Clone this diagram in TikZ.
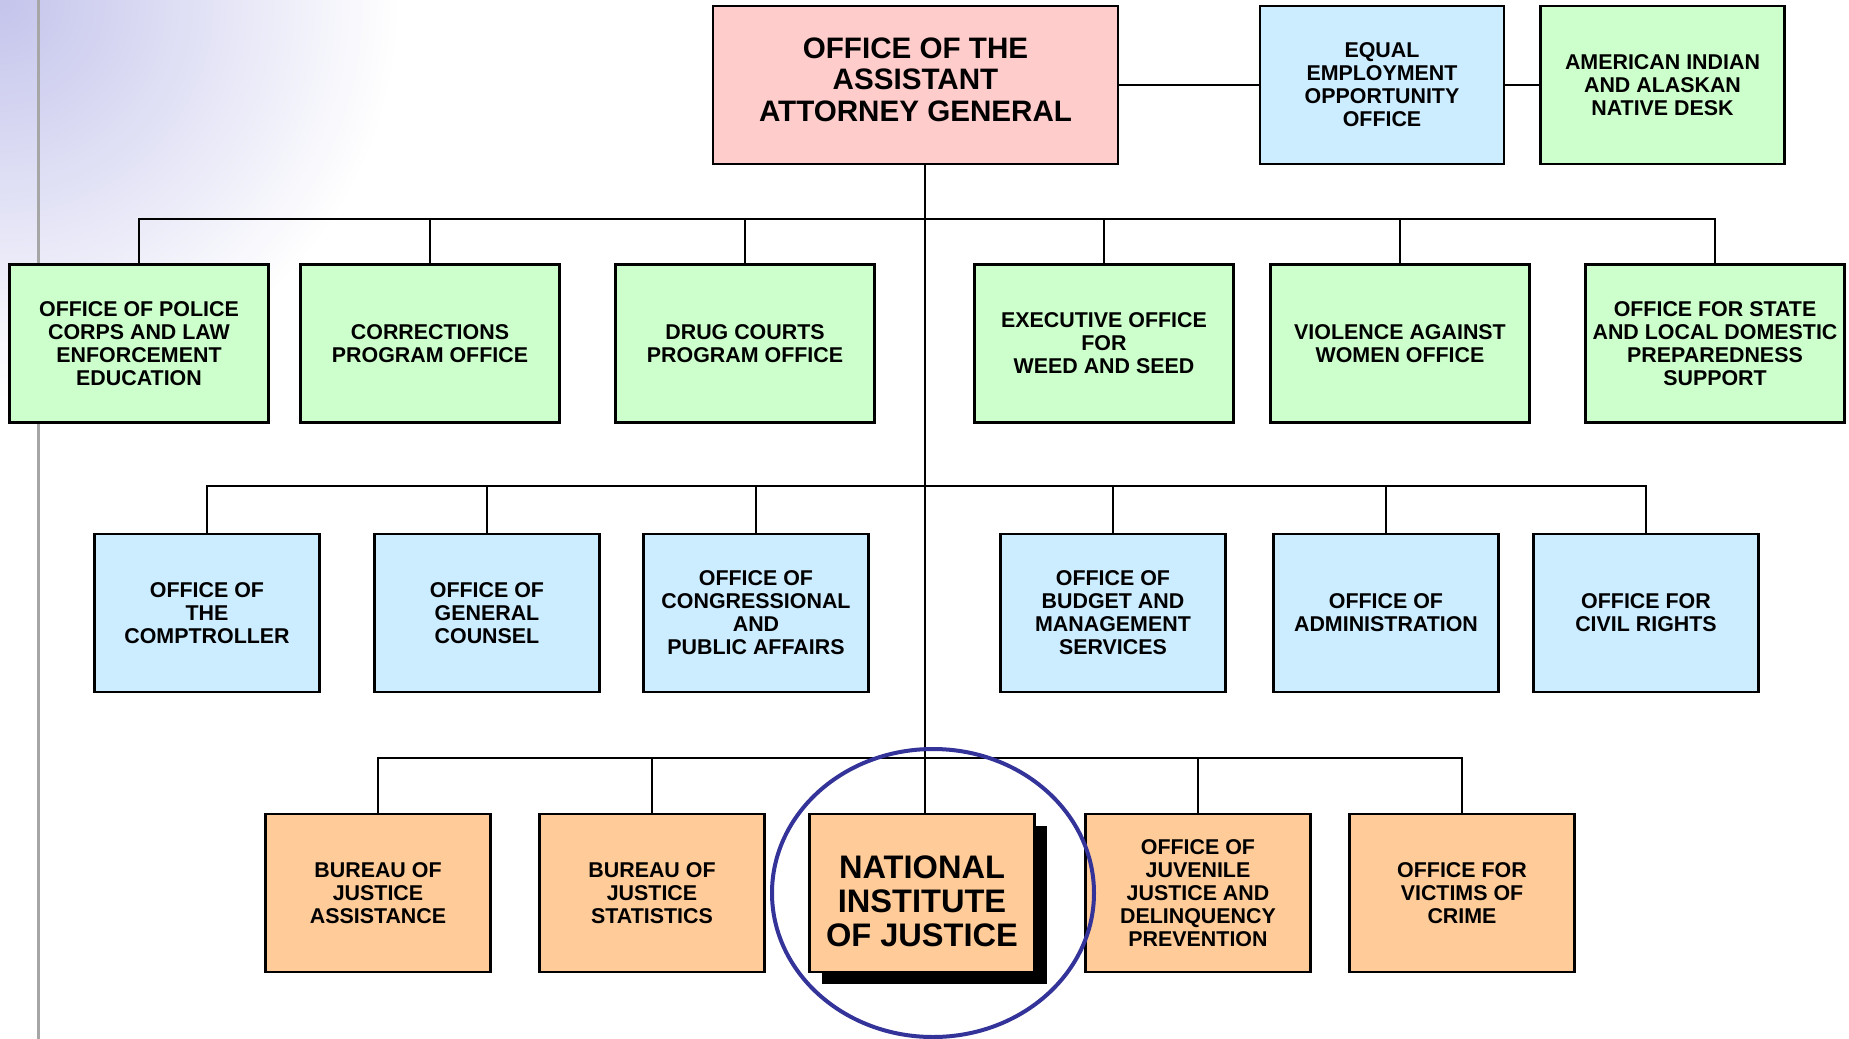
\documentclass[tikz,border=0pt]{standalone}
\usepackage{fontspec}
\setmainfont{Liberation Sans}
\usepackage{tikz}
\definecolor{colorBLUE}{HTML}{CCECFF}
\definecolor{colorGREEN}{HTML}{CCFFCC}
\definecolor{colorORANGE}{HTML}{FFCC99}
\definecolor{colorRING}{HTML}{333399}
\definecolor{colorAAG}{HTML}{FFCCCC}
\definecolor{colorTINT}{HTML}{C4C4EC}
\usetikzlibrary{calc}
\usetikzlibrary{positioning}
\usetikzlibrary{shadows}
\tikzset{
   office/.style={draw,line width=1.3pt,align=center,inner sep=0pt,minimum height=79pt,
      font=\bfseries\fontsize{10.7}{11.5}\selectfont},
   wide/.style={office,minimum width=129.5pt,fill=colorGREEN},
   staff/.style={office,minimum width=112.5pt,fill=colorBLUE},
   unit/.style={office,minimum width=112.5pt,fill=colorORANGE},
   desk/.style={office,minimum width=122pt,fill=#1},
   head/.style={office,minimum width=202.5pt,fill=colorAAG,
      font=\bfseries\fontsize{14.8}{15.7}\selectfont},
   bus/.style={line width=1.3pt},
   ring/.style={draw=colorRING,line width=2pt},
}

\begin{document}
\begin{tikzpicture}[x=0.5pt,y=-0.5pt]

        \useasboundingbox (0,0) rectangle (1849,1039);

        % backdrop
        \begin{scope}
          \clip (0,0) rectangle (900,600);
          \shade[inner color=colorTINT,outer color=white] (0,0) circle[radius=200pt];
        \end{scope}
        \draw[gray!70,line width=1.5pt] (38,0) -- (38,1039);

        \node[head] (aag) at (915.5, 85) {OFFICE OF THE\\ASSISTANT\\ATTORNEY GENERAL\\[-10pt]};
        \node[desk=colorBLUE]  (eeo) at (1382, 85) {EQUAL\\EMPLOYMENT\\OPPORTUNITY\\OFFICE};
        \node[desk=colorGREEN] (aid) at (1662.5, 85) {AMERICAN INDIAN\\AND ALASKAN\\NATIVE DESK};

        \node[wide] (pol)  at ( 139, 343.5) {OFFICE OF POLICE\\CORPS AND LAW\\ENFORCEMENT\\EDUCATION};
        \node[wide] (cpo)  at ( 430, 343.5) {CORRECTIONS\\PROGRAM OFFICE};
        \node[wide] (dcp)  at ( 745, 343.5) {DRUG COURTS\\PROGRAM OFFICE};
        \node[wide] (eows) at (1104, 343.5) {EXECUTIVE OFFICE\\FOR\\WEED AND SEED};
        \node[wide] (vaw)  at (1400, 343.5) {VIOLENCE AGAINST\\WOMEN OFFICE};
        \node[wide] (osl)  at (1715, 343.5) {OFFICE FOR STATE\\AND LOCAL DOMESTIC\\PREPAREDNESS\\SUPPORT};

        \node[staff] (oc)   at ( 207, 613) {OFFICE OF\\THE\\COMPTROLLER};
        \node[staff] (ogc)  at ( 487, 613) {OFFICE OF\\GENERAL\\COUNSEL};
        \node[staff] (ocpa) at ( 756, 613) {OFFICE OF\\CONGRESSIONAL\\AND\\PUBLIC AFFAIRS};
        \node[staff] (obms) at (1113, 613) {OFFICE OF\\BUDGET AND\\MANAGEMENT\\SERVICES};
        \node[staff] (oa)   at (1386, 613) {OFFICE OF\\ADMINISTRATION};
        \node[staff] (ocr)  at (1646, 613) {OFFICE FOR\\CIVIL RIGHTS};

        \node[unit] (bja)   at ( 378, 893) {BUREAU OF\\JUSTICE\\ASSISTANCE};
        \node[unit] (bjs)   at ( 652, 893) {BUREAU OF\\JUSTICE\\STATISTICS};
        \node[unit,drop shadow={shadow xshift=6pt,shadow yshift=-6pt,fill=black,opacity=1},
              font=\bfseries\fontsize{16.3}{17}\selectfont] (nij) at (922, 893) {\strut\\[-9pt]NATIONAL\\INSTITUTE\\OF JUSTICE};
        \node[unit] (ojjdp) at (1198, 893) {OFFICE OF\\JUVENILE\\JUSTICE AND\\DELINQUENCY\\PREVENTION};
        \node[unit] (ovc)   at (1462, 893) {OFFICE FOR\\VICTIMS OF\\CRIME};

        \coordinate (b1) at (925, 219);
        \coordinate (b2) at (925, 486);
        \coordinate (b3) at (925, 758);

        % trunk and staff desks
        \draw[bus] (aag.south -| b1) -- (nij.north -| b1);
        \draw[bus] (aag.east) -- (eeo.west);
        \draw[bus] (eeo.east) -- (aid.west);

        % program offices
        \draw[bus] (pol.north) |- (b1) -| (osl.north);
        \draw[bus] (cpo.north) -- (cpo.north |- b1);
        \draw[bus] (dcp.north) -- (dcp.north |- b1);
        \draw[bus] (eows.north) -- (eows.north |- b1);
        \draw[bus] (vaw.north) -- (vaw.north |- b1);

        % support offices
        \draw[bus] (oc.north) |- (b2) -| (ocr.north);
        \draw[bus] (ogc.north) -- (ogc.north |- b2);
        \draw[bus] (ocpa.north) -- (ocpa.north |- b2);
        \draw[bus] (obms.north) -- (obms.north |- b2);
        \draw[bus] (oa.north) -- (oa.north |- b2);

        % bureaus
        \draw[bus] (bja.north) |- (b3) -| (ovc.north);
        \draw[bus] (bjs.north) -- (bjs.north |- b3);
        \draw[bus] (ojjdp.north) -- (ojjdp.north |- b3);

        \draw[ring] (933, 893) ellipse (161 and 144);

      \end{tikzpicture}
\end{document}
